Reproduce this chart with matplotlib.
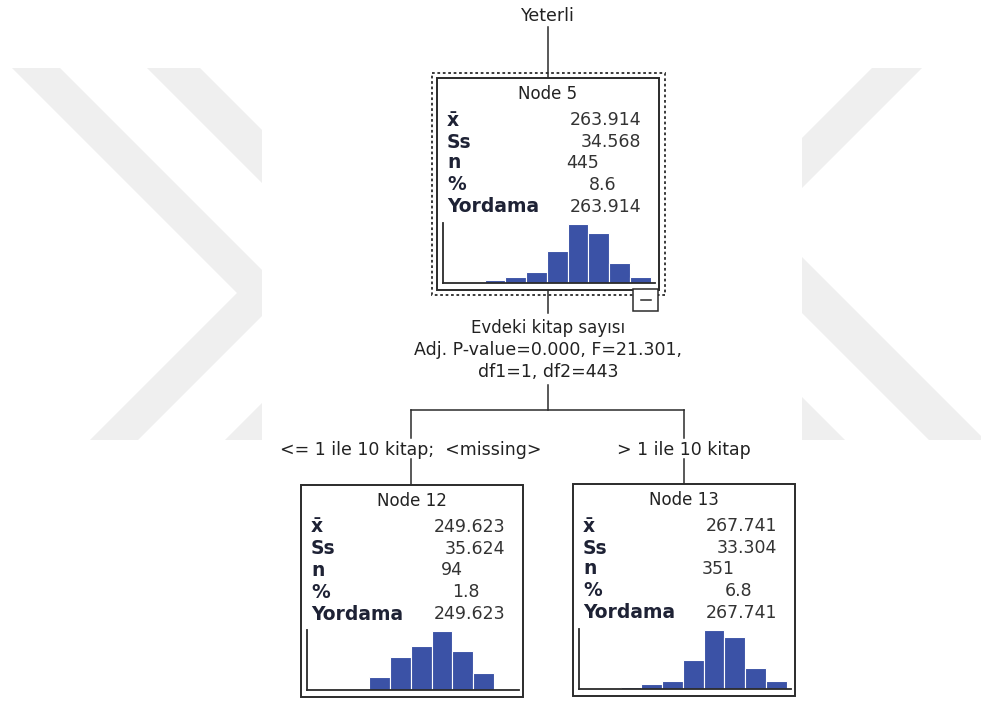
import matplotlib
matplotlib.use("Agg")
import matplotlib.pyplot as plt
from matplotlib.patches import Rectangle, Polygon

W, H = 981, 702

# ---- data ----
root_label = "Yeterli"
split_var = "Evdeki kitap sayısı"
split_stats = ["Adj. P-value=0.000, F=21.301,", "df1=1, df2=443"]
branch_labels = ["<= 1 ile 10 kitap;  <missing>", "> 1 ile 10 kitap"]

stat_names = ["x\u0304", "Ss", "n", "%", "Yordama"]

node_ids = [5, 12, 13]
node_mean = ["263.914", "249.623", "267.741"]
node_sd = ["34.568", "35.624", "33.304"]
node_n = ["445", "94", "351"]
node_pct = ["8.6", "1.8", "6.8"]
node_pred = ["263.914", "249.623", "267.741"]

# histogram counts per bin (10 bins, same range in every node)
node5_counts = [0, 0, 6, 14, 26, 77, 141, 120, 47, 14]
node12_counts = [0, 0, 0, 6, 15, 20, 27, 18, 8, 0]
node13_counts = [0, 0, 4, 9, 15, 55, 113, 100, 40, 15]
hist_counts = [node5_counts, node12_counts, node13_counts]

# ---- layout (pixels) ----
box_xy = [(437, 78), (301, 485), (573, 484)]   # top-left of each node box
box_w, box_h = 222, 212
row_dy = [42, 64, 85, 107, 129]
value_right = [204, 204, 162, 179, 204]

TXT = "#222222"
LINE = "#2b2b2b"
BAR = "#3b52a6"
WM = "#efefef"

fig = plt.figure(figsize=(W / 100, H / 100), dpi=100)
ax = fig.add_axes([0, 0, 1, 1])
ax.set_xlim(0, W)
ax.set_ylim(H, 0)
ax.axis("off")

# faint watermark behind the tree
wm_shapes = [
    [(12, 68), (60, 68), (285, 293), (138, 440), (90, 440), (237, 293)],
    [(147, 68), (200, 68), (425, 293), (278, 440), (225, 440), (372, 293)],
    [(872, 68), (922, 68), (740, 250), (690, 250)],
    [(689, 200), (745, 200), (985, 440), (929, 440)],
    [(729, 380), (785, 380), (845, 440), (789, 440)],
]
for pts in wm_shapes:
    ax.add_patch(Polygon(pts, closed=True, facecolor=WM, edgecolor="none", zorder=0))
ax.add_patch(Rectangle((262, 60), 540, 390, facecolor="white", edgecolor="none", zorder=1))

# tree connectors
cx = 548
ax.text(cx, 16, root_label, ha="center", va="center", fontsize=12.5, color=TXT, zorder=3)
ax.plot([cx, cx], [27, 78], color=LINE, lw=1.1, zorder=3)
ax.plot([cx, cx], [290, 313], color=LINE, lw=1.1, zorder=3)
ax.text(cx, 328, split_var, ha="center", va="center", fontsize=12, color=TXT, zorder=3)
ax.text(cx, 350, split_stats[0], ha="center", va="center", fontsize=12.5, color=TXT, zorder=3)
ax.text(cx, 372, split_stats[1], ha="center", va="center", fontsize=12.5, color=TXT, zorder=3)
ax.plot([cx, cx], [385, 410], color=LINE, lw=1.1, zorder=3)
lx, rx = 411, 684
ax.plot([lx, rx], [410, 410], color=LINE, lw=1.1, zorder=3)
for x, lab in zip([lx, rx], branch_labels):
    ax.plot([x, x], [410, 438], color=LINE, lw=1.1, zorder=3)
    ax.plot([x, x], [459, 485], color=LINE, lw=1.1, zorder=3)
    ax.text(x, 450, lab, ha="center", va="center", fontsize=12.5, color=TXT, zorder=3)

# selected-node frame and collapse button on node 5
ax.add_patch(Rectangle((432, 73), 233, 222, fill=False, edgecolor=LINE, lw=1.3,
                       linestyle=(0, (1.5, 1.5)), zorder=3))
ax.add_patch(Rectangle((633, 289), 25, 22, facecolor="white", edgecolor=LINE, lw=1.1, zorder=4))
ax.plot([641, 651], [300, 300], color=LINE, lw=1.1, zorder=5)

values = list(zip(node_mean, node_sd, node_n, node_pct, node_pred))
for k, (bx, by) in enumerate(box_xy):
    ax.add_patch(Rectangle((bx, by), box_w, box_h, facecolor="white", edgecolor=LINE,
                           lw=1.4, zorder=3))
    ax.text(bx + box_w / 2, by + 16, f"Node {node_ids[k]}", ha="center", va="center",
            fontsize=12, color=TXT, zorder=4)
    for r, name in enumerate(stat_names):
        ax.text(bx + 10, by + row_dy[r], name, ha="left", va="center", fontsize=13.5,
                fontweight="bold", color="#1e2235", zorder=4)
        ax.text(bx + value_right[r], by + row_dy[r], values[k][r], ha="right", va="center",
                fontsize=12.5, color="#333333", zorder=4)

    # histogram panel inside the node
    hx0, hx1 = bx + 6, bx + 218
    hy0, hy1 = by + 145, by + 205
    hax = fig.add_axes([hx0 / W, 1 - hy1 / H, (hx1 - hx0) / W, (hy1 - hy0) / H])
    counts = hist_counts[k]
    hax.bar(range(len(counts)), counts, width=1.0, align="edge", color=BAR,
            edgecolor="white", linewidth=0.8)
    hax.set_xlim(0, 10.2)
    hax.set_ylim(0, max(counts) * 60 / 59)
    hax.set_xticks([])
    hax.set_yticks([])
    hax.patch.set_alpha(0)
    for s in ["top", "right"]:
        hax.spines[s].set_visible(False)
    for s in ["left", "bottom"]:
        hax.spines[s].set_color(LINE)
        hax.spines[s].set_linewidth(1.3)

fig.savefig("out.png", dpi=100)
